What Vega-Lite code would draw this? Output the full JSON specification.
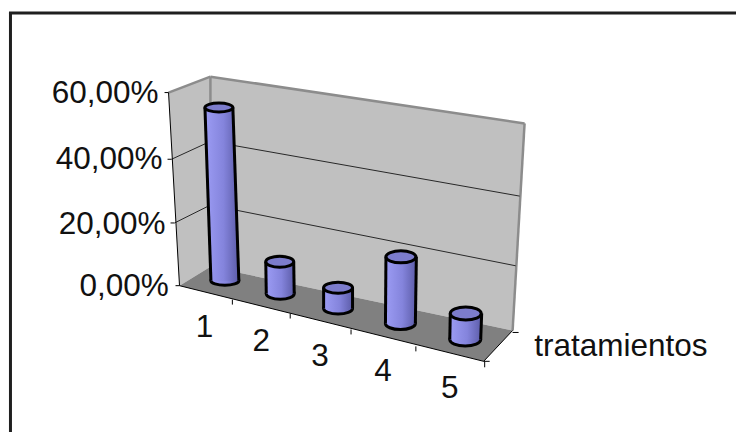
{
"$schema":"https://vega.github.io/schema/vega-lite/v6.json",
"autosize":{"type":"fit","contains":"padding"},
"width":738,"height":434,"padding":0,
"background":"white",
"view":{"stroke":null},
"datasets":{
"planos":[
{"p":"pared izq","o":1,"x":169,"y":93},{"p":"pared izq","o":2,"x":211,"y":77},{"p":"pared izq","o":3,"x":211,"y":268},{"p":"pared izq","o":4,"x":180,"y":287},{"p":"pared izq","o":5,"x":169,"y":93},
{"p":"pared fondo","o":1,"x":211,"y":77},{"p":"pared fondo","o":2,"x":526,"y":124},{"p":"pared fondo","o":3,"x":514,"y":332},{"p":"pared fondo","o":4,"x":211,"y":268},{"p":"pared fondo","o":5,"x":211,"y":77}
],
"suelo":[
{"p":"suelo","o":1,"x":180,"y":287},{"p":"suelo","o":2,"x":211,"y":268},{"p":"suelo","o":3,"x":514,"y":332},{"p":"suelo","o":4,"x":485,"y":363},{"p":"suelo","o":5,"x":180,"y":287}
],
"lineas":[
{"k":"marco","x":10.5,"y":13,"x2":10.5,"y2":434},
{"k":"marco","x":9,"y":13,"x2":738,"y2":13},
{"k":"pared","x":169,"y":93,"x2":211,"y2":77},
{"k":"pared","x":211,"y":77,"x2":526,"y2":124},
{"k":"pared","x":211,"y":77,"x2":211,"y2":268},
{"k":"pared","x":526,"y":124,"x2":514,"y2":332},
{"k":"eje","x":169,"y":93,"x2":180,"y2":287},
{"k":"eje","x":180,"y":287,"x2":485,"y2":363},
{"k":"eje","x":485,"y":363,"x2":514,"y2":332},
{"k":"eje","x":165,"y":93,"x2":169,"y2":93},
{"k":"eje","x":168,"y":160,"x2":172,"y2":160},
{"k":"eje","x":171,"y":224,"x2":175,"y2":224},
{"k":"eje","x":176,"y":287,"x2":180,"y2":287},
{"k":"eje","x":233,"y":301,"x2":233,"y2":306},
{"k":"eje","x":291,"y":315,"x2":291,"y2":320},
{"k":"eje","x":352,"y":331,"x2":352,"y2":336},
{"k":"eje","x":417,"y":348,"x2":417,"y2":353},
{"k":"eje","x":486,"y":363,"x2":486,"y2":369},
{"k":"eje","x":485,"y":363,"x2":491,"y2":363},
{"k":"eje","x":514,"y":334,"x2":520,"y2":334},
{"k":"rejilla","x":172,"y":160,"x2":211,"y2":142},
{"k":"rejilla","x":211,"y":142,"x2":521,"y2":197},
{"k":"rejilla","x":175,"y":224,"x2":211,"y2":206},
{"k":"rejilla","x":211,"y":206,"x2":517,"y2":267}
],
"cilindros":[
{"tratamiento":"1","valor":55,"xs":219.5,"ys":108,"xi":225.5,"yi":282},
{"tratamiento":"2","valor":9,"xs":280.5,"ys":263,"xi":281,"yi":295},
{"tratamiento":"3","valor":5,"xs":339,"ys":289,"xi":339,"yi":310},
{"tratamiento":"4","valor":16,"xs":402,"ys":258,"xi":401.5,"yi":325},
{"tratamiento":"5","valor":7,"xs":467,"ys":315,"xi":466.5,"yi":341}
],
"cuerpos":[
{"tratamiento":"1","o":1,"x":205.5,"y":108},{"tratamiento":"1","o":2,"x":233.5,"y":108},{"tratamiento":"1","o":3,"x":239.5,"y":282},{"tratamiento":"1","o":4,"x":211.5,"y":282},{"tratamiento":"1","o":5,"x":205.5,"y":108},
{"tratamiento":"2","o":1,"x":266.5,"y":263},{"tratamiento":"2","o":2,"x":294.5,"y":263},{"tratamiento":"2","o":3,"x":295,"y":295},{"tratamiento":"2","o":4,"x":267,"y":295},{"tratamiento":"2","o":5,"x":266.5,"y":263},
{"tratamiento":"3","o":1,"x":324.5,"y":289},{"tratamiento":"3","o":2,"x":353.5,"y":289},{"tratamiento":"3","o":3,"x":353.5,"y":310},{"tratamiento":"3","o":4,"x":324.5,"y":310},{"tratamiento":"3","o":5,"x":324.5,"y":289},
{"tratamiento":"4","o":1,"x":387,"y":258},{"tratamiento":"4","o":2,"x":417.5,"y":258},{"tratamiento":"4","o":3,"x":416.5,"y":325},{"tratamiento":"4","o":4,"x":386.5,"y":325},{"tratamiento":"4","o":5,"x":387,"y":258},
{"tratamiento":"5","o":1,"x":451.5,"y":315},{"tratamiento":"5","o":2,"x":483,"y":315},{"tratamiento":"5","o":3,"x":482,"y":341},{"tratamiento":"5","o":4,"x":451,"y":341},{"tratamiento":"5","o":5,"x":451.5,"y":315}
],
"bordes":[
{"tratamiento":"1","lado":"i","o":1,"x":205.5,"y":108},{"tratamiento":"1","lado":"i","o":2,"x":211.5,"y":282},{"tratamiento":"1","lado":"d","o":1,"x":233.5,"y":108},{"tratamiento":"1","lado":"d","o":2,"x":239.5,"y":282},
{"tratamiento":"2","lado":"i","o":1,"x":266.5,"y":263},{"tratamiento":"2","lado":"i","o":2,"x":267,"y":295},{"tratamiento":"2","lado":"d","o":1,"x":294.5,"y":263},{"tratamiento":"2","lado":"d","o":2,"x":295,"y":295},
{"tratamiento":"3","lado":"i","o":1,"x":324.5,"y":289},{"tratamiento":"3","lado":"i","o":2,"x":324.5,"y":310},{"tratamiento":"3","lado":"d","o":1,"x":353.5,"y":289},{"tratamiento":"3","lado":"d","o":2,"x":353.5,"y":310},
{"tratamiento":"4","lado":"i","o":1,"x":387,"y":258},{"tratamiento":"4","lado":"i","o":2,"x":386.5,"y":325},{"tratamiento":"4","lado":"d","o":1,"x":417.5,"y":258},{"tratamiento":"4","lado":"d","o":2,"x":416.5,"y":325},
{"tratamiento":"5","lado":"i","o":1,"x":451.5,"y":315},{"tratamiento":"5","lado":"i","o":2,"x":451,"y":341},{"tratamiento":"5","lado":"d","o":1,"x":483,"y":315},{"tratamiento":"5","lado":"d","o":2,"x":482,"y":341}
],
"textos":[
{"t":"60,00%","x":105.5,"y":103},{"t":"40,00%","x":109.5,"y":170},{"t":"20,00%","x":112.5,"y":235},{"t":"0,00%","x":124.5,"y":297},
{"t":"1","x":205,"y":339},{"t":"2","x":262,"y":353},{"t":"3","x":321,"y":368},{"t":"4","x":384,"y":383},{"t":"5","x":451,"y":400},
{"t":"tratamientos","x":622.5,"y":358}
]
},
"encoding":{
"x":{"field":"x","type":"quantitative","scale":{"domain":[0,738]},"axis":null},
"y":{"field":"y","type":"quantitative","scale":{"domain":[0,434],"reverse":true},"axis":null}
},
"layer":[
{"data":{"name":"planos"},"mark":{"type":"line","fill":"#c0c0c0","stroke":null,"interpolate":"linear"},"encoding":{"order":{"field":"o"},"detail":{"field":"p"}}},
{"data":{"name":"suelo"},"mark":{"type":"line","fill":"#808080","stroke":null},"encoding":{"order":{"field":"o"},"detail":{"field":"p"}}},
{"data":{"name":"lineas"},"transform":[{"filter":"datum.k==='marco'"}],"mark":{"type":"rule","stroke":"#1f1f1f","strokeWidth":3},"encoding":{"x2":{"field":"x2"},"y2":{"field":"y2"}}},
{"data":{"name":"lineas"},"transform":[{"filter":"datum.k==='pared'"}],"mark":{"type":"rule","stroke":"#8c8c8c","strokeWidth":2.5},"encoding":{"x2":{"field":"x2"},"y2":{"field":"y2"}}},
{"data":{"name":"lineas"},"transform":[{"filter":"datum.k==='eje'"}],"mark":{"type":"rule","stroke":"#000000","strokeWidth":1},"encoding":{"x2":{"field":"x2"},"y2":{"field":"y2"}}},
{"data":{"name":"lineas"},"transform":[{"filter":"datum.k==='rejilla'"}],"mark":{"type":"rule","stroke":"#000000","strokeWidth":0.8},"encoding":{"x2":{"field":"x2"},"y2":{"field":"y2"}}},
{"data":{"name":"cilindros"},"mark":{"type":"point","filled":true,"opacity":1,"size":4,"stroke":"black","strokeWidth":3,"fill":{"x1":0,"y1":0,"x2":1,"y2":0,"gradient":"linear","stops":[{"offset":0,"color":"#9c9cf4"},{"offset":0.55,"color":"#8484dc"},{"offset":1,"color":"#5c5ca8"}]}},"encoding":{
"x":{"field":"xi","type":"quantitative"},"y":{"field":"yi","type":"quantitative"},
"shape":{"field":"tratamiento","type":"nominal","legend":null,"scale":{"domain":["1","2","3","4","5"],"range":["M -14 0 A 14 4.5 0 1 0 14 0 A 14 4.5 0 1 0 -14 0 Z","M -14 0 A 14 5.5 0 1 0 14 0 A 14 5.5 0 1 0 -14 0 Z","M -14.5 0 A 14.5 5.5 0 1 0 14.5 0 A 14.5 5.5 0 1 0 -14.5 0 Z","M -15 0 A 15 6 0 1 0 15 0 A 15 6 0 1 0 -15 0 Z","M -15.5 0 A 15.5 6.5 0 1 0 15.5 0 A 15.5 6.5 0 1 0 -15.5 0 Z"]}}
}},
{"data":{"name":"cuerpos"},"mark":{"type":"line","stroke":null,"fill":{"x1":0,"y1":0,"x2":1,"y2":0,"gradient":"linear","stops":[{"offset":0,"color":"#9c9cf4"},{"offset":0.55,"color":"#8484dc"},{"offset":1,"color":"#5c5ca8"}]}},"encoding":{"order":{"field":"o"},"detail":{"field":"tratamiento"}}},
{"data":{"name":"bordes"},"mark":{"type":"line","stroke":"black","strokeWidth":3},"encoding":{"order":{"field":"o"},"detail":[{"field":"tratamiento"},{"field":"lado"}]}},
{"data":{"name":"cilindros"},"mark":{"type":"point","filled":true,"opacity":1,"size":4,"stroke":"black","strokeWidth":3,"fill":"#7c7ccc"},"encoding":{
"x":{"field":"xs","type":"quantitative"},"y":{"field":"ys","type":"quantitative"},
"shape":{"field":"tratamiento","type":"nominal","legend":null,"scale":{"domain":["1","2","3","4","5"],"range":["M -14 0 A 14 4.5 0 1 0 14 0 A 14 4.5 0 1 0 -14 0 Z","M -14 0 A 14 5.5 0 1 0 14 0 A 14 5.5 0 1 0 -14 0 Z","M -14.5 0 A 14.5 6 0 1 0 14.5 0 A 14.5 6 0 1 0 -14.5 0 Z","M -15 0 A 15 6 0 1 0 15 0 A 15 6 0 1 0 -15 0 Z","M -15.5 0 A 15.5 7 0 1 0 15.5 0 A 15.5 7 0 1 0 -15.5 0 Z"]}}
}},
{"data":{"name":"textos"},"mark":{"type":"text","font":"Liberation Sans","fontSize":31.5,"color":"#111111","baseline":"alphabetic","align":"center"},"encoding":{"text":{"field":"t"}}}
]
}
